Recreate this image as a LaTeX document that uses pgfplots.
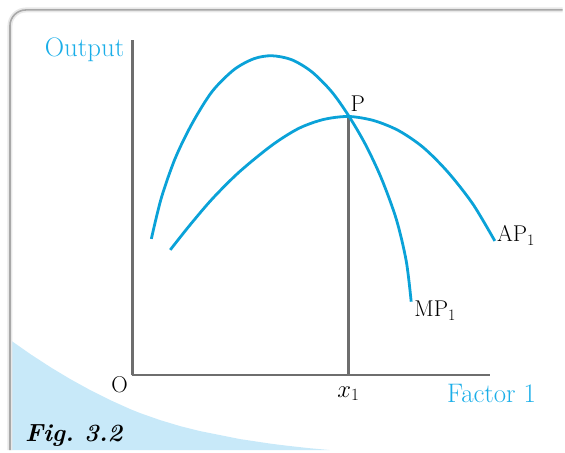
\documentclass[border=0pt]{standalone}
\usepackage{pgfplots}
\pgfplotsset{compat=1.18}
\definecolor{curveblue}{HTML}{0AA2D8}
\definecolor{textblue}{HTML}{1AAEE8}
\definecolor{axisgray}{HTML}{6E6E6E}
\definecolor{wedgeblue}{HTML}{C8E9F9}
\definecolor{framegray}{HTML}{A8A8A8}

\begin{document}
\begin{tikzpicture}
\begin{axis}[
  scale only axis,
  width=359bp, height=337bp,
  xmin=133, xmax=492,
  ymin=75, ymax=412,
  axis lines=left,
  axis line style={draw=axisgray, line width=2.3bp, -},
  xtick=\empty, ytick=\empty,
  clip=false,
]
% page extent
\path (axis cs:0,0) rectangle (axis cs:565,452);
% light blue corner wedge
\addplot[draw=none, fill=wedgeblue] coordinates {
(11,110) (21,103) (31,96) (41,89.5) (51,83) (61,77) (71,71) (81,65.5)
(91,60) (101,55) (111,50) (121,45.5) (131,41) (141,37) (151,33.5)
(161,30) (171,27) (181,24) (191,21.5) (201,19) (211,17) (221,15)
(231,13) (241,11) (251,9.5) (261,8) (271,6.5) (281,5.2) (291,4)
(301,2.9) (311,1.8) (321,0.9) (331,0) (11,0)};
% frame
\addplot[draw=gray!18, line width=5bp, rounded corners=16bp] coordinates {(10,0) (10,442) (565,442)};
\addplot[draw=framegray, line width=1.6bp, rounded corners=16bp] coordinates {(10,0) (10,442) (565,442)};

% vertical line at x1
\addplot[draw=axisgray, line width=2.3bp] coordinates {(350,75) (350,335)};

% MP curve
\addplot[curveblue, line width=2.8bp, smooth] coordinates {
(152,212) (162,253) (176,293) (193,328) (213,360) (235,382) (255,393)
(273,396) (293,392) (313,380) (333,360) (350,336) (367,307) (383,273)
(398,232) (408,190) (413,149)};
% AP curve
\addplot[curveblue, line width=2.8bp, smooth] coordinates {
(171,201) (190,225) (213,252) (240,279) (273,306) (300,323) (325,332)
(350,335) (375,331) (400,321) (425,304) (450,279) (475,247) (497,210)};

% labels
\node[anchor=base east, inner sep=0pt, text=textblue, font=\fontsize{27}{30}\selectfont] at (axis cs:125,395) {Output};
\node[anchor=base west, inner sep=0pt, text=textblue, font=\fontsize{27}{30}\selectfont] at (axis cs:449,48) {Factor 1};
\node[anchor=base, inner sep=0pt, font=\fontsize{23}{26}\selectfont] at (axis cs:120,58) {O};
\node[anchor=base, inner sep=0pt, font=\fontsize{23}{26}\selectfont] at (axis cs:350,53) {$x_{1}$};
\node[anchor=base west, inner sep=0pt, font=\fontsize{23}{26}\selectfont] at (axis cs:352,340) {P};
\node[anchor=base west, inner sep=0pt, font=\fontsize{23}{26}\selectfont] at (axis cs:416,134) {MP\textsubscript{1}};
\node[anchor=base west, inner sep=0pt, font=\fontsize{23}{26}\selectfont] at (axis cs:499,209) {AP\textsubscript{1}};
\node[anchor=base west, inner sep=0pt, font=\fontsize{25}{28}\selectfont\bfseries\itshape] at (axis cs:25,9) {Fig.\ 3.2};
\end{axis}
\end{tikzpicture}
\end{document}
